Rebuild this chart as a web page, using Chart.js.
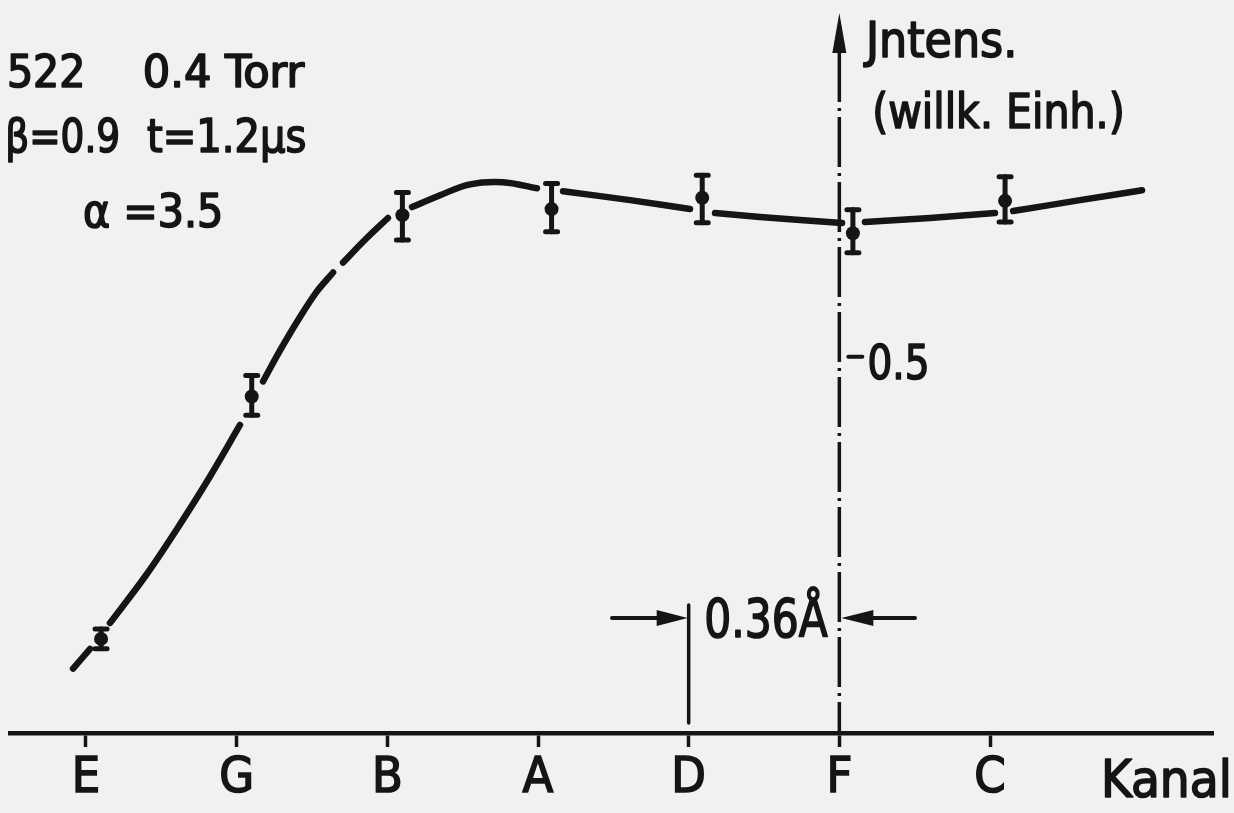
<!DOCTYPE html>
<html><head><meta charset="utf-8">
<script src="https://cdn.jsdelivr.net/npm/chart.js@4.4.1/dist/chart.umd.min.js"></script>
<style>html,body{margin:0;padding:0;background:#f1f1f1;overflow:hidden}#wrap{width:1234px;height:813px;position:relative}</style>
</head><body><div id="wrap"><canvas id="c" width="1234" height="813"></canvas></div>
<script>
// ---- data ----
const categories = ['E','G','B','A','D','F','C'];
const pointX = [0.10, 1.10, 2.10, 3.09, 4.09, 5.09, 6.10];
const pointY = [0.125, 0.447, 0.688, 0.696, 0.711, 0.664, 0.707];
const errLow  = [0.112, 0.422, 0.655, 0.666, 0.678, 0.638, 0.679];
const errHigh = [0.138, 0.475, 0.718, 0.730, 0.741, 0.695, 0.739];
const curveX = [-0.086, 0.027, null, 0.159, 0.392, 0.604, 0.823, 1.022, null,
  1.175, 1.288, 1.407, 1.527, 1.640, null, 1.706, 1.852, 2.004, null,
  2.164, 2.350, 2.549, 2.768, 2.993, null, 3.166, 3.611, 4.009, null,
  4.175, 4.473, 4.739, 5.018, null, 5.170, 5.602, 6.033, null, 6.153, 6.597, 7.009];
const curveY = [0.0855, 0.1118, null, 0.1461, 0.2079, 0.2711, 0.3408, 0.4092, null,
  0.4671, 0.5082, 0.5483, 0.5851, 0.6118, null, 0.625, 0.6553, 0.6842, null,
  0.6987, 0.7145, 0.7289, 0.7316, 0.7237, null, 0.7197, 0.7079, 0.6961, null,
  0.6908, 0.6855, 0.6816, 0.6776, null, 0.6789, 0.6842, 0.6908, null, 0.6934, 0.7079, 0.7211];
const yTickValues = [0.5];
const yTickLabels = ['0.5'];
const yAxisAt = 5;      // vertical axis placed at channel F
const markFrom = 4, markTo = 5; // 0.36 Å spacing between D and F

const INK = '#151515';
const FONT = '"DejaVu Sans Condensed", "DejaVu Sans", sans-serif';

function fitText(ctx, text, left, right, baseline, size) {
  ctx.save();
  ctx.font = size + 'px ' + FONT;
  ctx.textBaseline = 'alphabetic';
  ctx.textAlign = 'left';
  const m = ctx.measureText(text);
  const inkW = m.actualBoundingBoxRight + m.actualBoundingBoxLeft;
  const s = (right - left) / inkW;
  ctx.translate(left + m.actualBoundingBoxLeft * s, baseline);
  ctx.scale(s, 1);
  ctx.fillStyle = INK; ctx.strokeStyle = INK;
  ctx.lineWidth = 1.6; ctx.lineJoin = 'round';
  ctx.setLineDash([]);
  ctx.fillText(text, 0, 0);
  ctx.strokeText(text, 0, 0);
  ctx.restore();
}

const decor = {
  id: 'decor',
  afterDatasetsDraw(chart) {
    const ctx = chart.ctx, xs = chart.scales.x, ys = chart.scales.y;
    ctx.save();
    ctx.strokeStyle = INK; ctx.fillStyle = INK; ctx.lineCap = 'round';
    // error bars
    for (let i = 0; i < pointX.length; i++) {
      const px = xs.getPixelForValue(pointX[i]);
      const t = ys.getPixelForValue(errHigh[i]), b = ys.getPixelForValue(errLow[i]);
      ctx.lineWidth = 5;
      ctx.beginPath(); ctx.moveTo(px, t); ctx.lineTo(px, b); ctx.stroke();
      ctx.beginPath(); ctx.moveTo(px - 6, t); ctx.lineTo(px + 6, t);
      ctx.moveTo(px - 6, b); ctx.lineTo(px + 6, b); ctx.stroke();
    }
    // vertical dash-dot axis with arrow
    const ax = xs.getPixelForValue(yAxisAt);
    const bottom = chart.chartArea.bottom;
    ctx.lineWidth = 3.5; ctx.lineCap = 'butt';
    ctx.setLineDash([50, 6, 3, 6]);
    ctx.beginPath(); ctx.moveTo(ax, 52); ctx.lineTo(ax, bottom); ctx.stroke();
    ctx.setLineDash([]);
    ctx.beginPath(); ctx.moveTo(ax, 13); ctx.lineTo(ax - 7, 53); ctx.lineTo(ax + 7, 53); ctx.closePath(); ctx.fill();
    // y ticks
    for (let i = 0; i < yTickValues.length; i++) {
      const py = ys.getPixelForValue(yTickValues[i]);
      ctx.lineWidth = 4; ctx.lineCap = 'round';
      ctx.beginPath(); ctx.moveTo(ax + 9, py); ctx.lineTo(ax + 23, py); ctx.stroke();
      fitText(ctx, yTickLabels[i], ax + 30, ax + 87, py + 22, 48);
    }
    // 0.36 Å marker
    const mx = xs.getPixelForValue(markFrom), fx = xs.getPixelForValue(markTo);
    ctx.lineWidth = 3.5; ctx.lineCap = 'round';
    ctx.beginPath(); ctx.moveTo(mx, 605); ctx.lineTo(mx, 723); ctx.stroke();
    ctx.lineWidth = 4;
    ctx.beginPath(); ctx.moveTo(612, 618); ctx.lineTo(mx - 20, 618); ctx.stroke();
    ctx.beginPath(); ctx.moveTo(mx - 1, 618); ctx.lineTo(mx - 32, 610); ctx.lineTo(mx - 32, 626); ctx.closePath(); ctx.fill();
    ctx.beginPath(); ctx.moveTo(fx + 20, 618); ctx.lineTo(915, 618); ctx.stroke();
    ctx.beginPath(); ctx.moveTo(fx + 2, 618); ctx.lineTo(fx + 34, 610); ctx.lineTo(fx + 34, 626); ctx.closePath(); ctx.fill();
    fitText(ctx, '0.36Å', 707, 828, 637, 53);
    // texts
    fitText(ctx, '522', 10, 82, 87, 44);
    fitText(ctx, '0.4 Torr', 145, 305, 87, 44);
    fitText(ctx, 'β=0.9', 8, 118, 152, 46);
    fitText(ctx, 't=1.2μs', 148, 305, 152, 46);
    fitText(ctx, 'α =3.5', 85, 220, 227, 46);
    fitText(ctx, 'Jntens.', 863, 1013, 57, 50);
    fitText(ctx, '(willk. Einh.)', 875, 1122, 128, 48);
    fitText(ctx, 'Kanal', 1105, 1228, 797, 51);
    ctx.restore();
  }
};

new Chart(document.getElementById('c'), {
  type: 'line',
  data: {
    datasets: [
      {
        label: 'Kurve',
        data: curveX.map((x, i) => (x === null ? { x: NaN, y: null } : { x: x, y: curveY[i] })),
        borderColor: INK, borderWidth: 6.5, borderCapStyle: 'round', borderJoinStyle: 'round',
        pointRadius: 0, tension: 0.35, spanGaps: false, fill: false
      },
      {
        label: 'Messwerte',
        data: pointX.map((x, i) => ({ x: x, y: pointY[i] })),
        showLine: false, pointRadius: 7, pointBackgroundColor: INK, pointBorderColor: INK, pointBorderWidth: 0
      }
    ]
  },
  options: {
    responsive: false, animation: false,
    layout: { padding: { left: 10, right: 21, top: 0, bottom: 0 } },
    plugins: { legend: { display: false }, tooltip: { enabled: false } },
    scales: {
      x: {
        type: 'linear', min: -0.5044, max: 7.48,
        afterBuildTicks: s => { s.ticks = categories.map((c, i) => ({ value: i })); },
        afterFit: s => { s.height = 80; },
        ticks: { callback: v => categories[v], color: INK, font: { size: 50, family: FONT }, textStrokeColor: INK, textStrokeWidth: 1.6, padding: 2, autoSkip: false, maxRotation: 0 },
        grid: { display: true, drawOnChartArea: false, drawTicks: true, tickLength: 14, tickWidth: 3.5, tickColor: INK },
        border: { display: true, color: INK, width: 4.5 }
      },
      y: { type: 'linear', min: 0, max: 0.9645, display: false }
    }
  },
  plugins: [decor]
});
</script></body></html>
